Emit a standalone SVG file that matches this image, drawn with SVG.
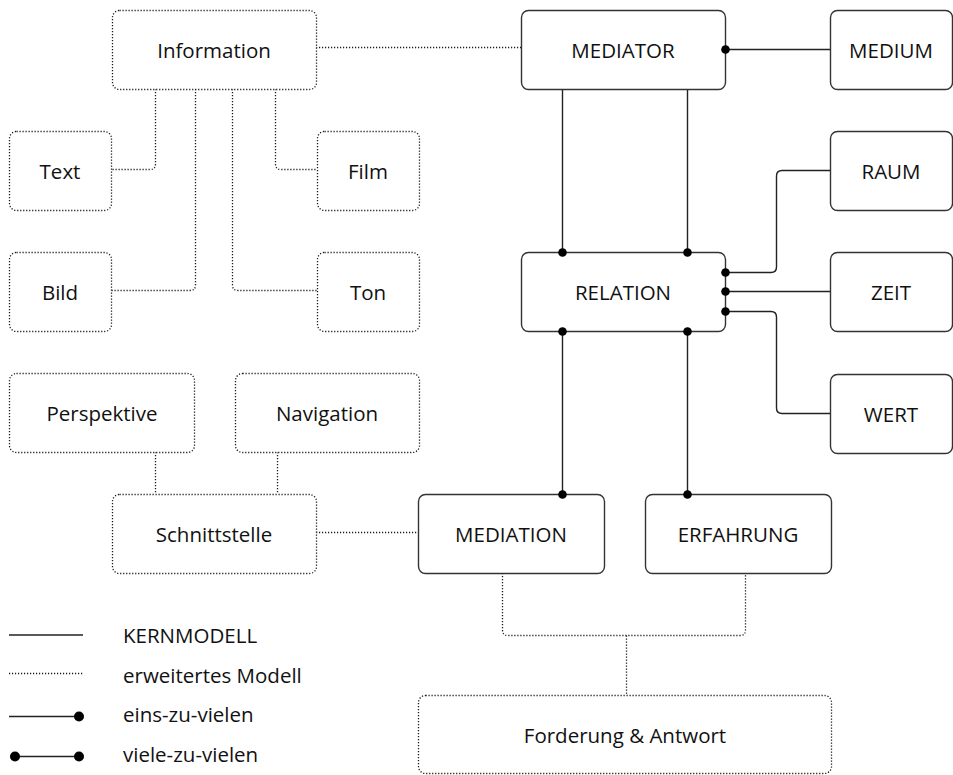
<svg xmlns="http://www.w3.org/2000/svg" width="953" height="775" viewBox="0 0 953 775">
<style>
.box{fill:#fff;stroke:#333;stroke-width:1.4}
.dbox{fill:#fff;stroke:#1a1a1a;stroke-width:1.3;stroke-dasharray:1.2 1.8}
.t{font-family:"Open Sans","Noto Sans","Liberation Sans",sans-serif;font-size:20.5px;fill:#111;text-anchor:middle}
.lt{font-family:"Open Sans","Noto Sans","Liberation Sans",sans-serif;font-size:20.5px;fill:#111}
.sl{fill:none;stroke:#222;stroke-width:1.4}
.dl{fill:none;stroke:#1a1a1a;stroke-width:1.3;stroke-dasharray:1.2 1.8}
.dot{fill:#000}
</style>
<rect width="953" height="775" fill="#fff"/>
<g id="connectors">
<path class="dl" d="M316 47.5H521"/>
<path class="dl" d="M155.5 89V164Q155.5 169.5 150 169.5H111"/>
<path class="dl" d="M195.5 89V285Q195.5 290.5 190 290.5H111"/>
<path class="dl" d="M232.5 89V285Q232.5 290.5 238 290.5H317"/>
<path class="dl" d="M275.5 89V164Q275.5 169.5 281 169.5H317"/>
<path class="dl" d="M155.5 452V494"/>
<path class="dl" d="M277.5 452V494"/>
<path class="dl" d="M316 532.5H418"/>
<path class="dl" d="M502.5 573V630Q502.5 635.5 508 635.5H740Q745.5 635.5 745.5 630V573"/>
<path class="dl" d="M626.5 635.5V695"/>
<path class="sl" d="M725 49.5H830"/>
<path class="sl" d="M562.5 89V252"/>
<path class="sl" d="M687.5 89V252"/>
<path class="sl" d="M725 272.5H771Q776.5 272.5 776.5 267V176Q776.5 170.5 782 170.5H830"/>
<path class="sl" d="M725 291.5H830"/>
<path class="sl" d="M725 311.5H771Q776.5 311.5 776.5 317V408Q776.5 413.5 782 413.5H830"/>
<path class="sl" d="M562.5 331V494"/>
<path class="sl" d="M687.5 331V494"/>
</g>
<g id="Information"><rect class="dbox" x="112.5" y="10.5" width="204" height="79" rx="7"/><text class="t" x="214" y="58">Information</text></g>
<g id="Text"><rect class="dbox" x="9.5" y="131.5" width="102" height="79" rx="7"/><text class="t" x="60" y="179">Text</text></g>
<g id="Bild"><rect class="dbox" x="9.5" y="252.5" width="102" height="79" rx="7"/><text class="t" x="60" y="300">Bild</text></g>
<g id="Film"><rect class="dbox" x="317.5" y="131.5" width="102" height="79" rx="7"/><text class="t" x="368" y="179">Film</text></g>
<g id="Ton"><rect class="dbox" x="317.5" y="252.5" width="102" height="79" rx="7"/><text class="t" x="368" y="300">Ton</text></g>
<g id="Perspektive"><rect class="dbox" x="9.5" y="373.5" width="185" height="79" rx="7"/><text class="t" x="102" y="421">Perspektive</text></g>
<g id="Navigation"><rect class="dbox" x="235.5" y="373.5" width="184" height="79" rx="7"/><text class="t" x="327" y="421">Navigation</text></g>
<g id="Schnittstelle"><rect class="dbox" x="112.5" y="494.5" width="204" height="79" rx="7"/><text class="t" x="214" y="542">Schnittstelle</text></g>
<g id="MEDIATOR"><rect class="box" x="521.5" y="10.5" width="204" height="79" rx="7"/><text class="t" x="623" y="58">MEDIATOR</text></g>
<g id="MEDIUM"><rect class="box" x="830.5" y="10.5" width="122" height="79" rx="7"/><text class="t" x="891" y="58">MEDIUM</text></g>
<g id="RAUM"><rect class="box" x="830.5" y="131.5" width="122" height="79" rx="7"/><text class="t" x="891" y="179">RAUM</text></g>
<g id="RELATION"><rect class="box" x="521.5" y="252.5" width="204" height="79" rx="7"/><text class="t" x="623" y="300">RELATION</text></g>
<g id="ZEIT"><rect class="box" x="830.5" y="252.5" width="122" height="79" rx="7"/><text class="t" x="891" y="300">ZEIT</text></g>
<g id="WERT"><rect class="box" x="830.5" y="374.5" width="122" height="79" rx="7"/><text class="t" x="891" y="422">WERT</text></g>
<g id="MEDIATION"><rect class="box" x="418.5" y="494.5" width="186" height="79" rx="7"/><text class="t" x="511" y="542">MEDIATION</text></g>
<g id="ERFAHRUNG"><rect class="box" x="645.5" y="494.5" width="186" height="79" rx="7"/><text class="t" x="738" y="542">ERFAHRUNG</text></g>
<g id="Forderung"><rect class="dbox" x="418.5" y="695.5" width="413" height="78" rx="7"/><text class="t" x="625" y="743">Forderung &amp; Antwort</text></g>
<g id="dots">
<circle class="dot" cx="725.5" cy="49.5" r="4.3"/>
<circle class="dot" cx="562.5" cy="252.5" r="4.3"/>
<circle class="dot" cx="687.5" cy="252.5" r="4.3"/>
<circle class="dot" cx="725.5" cy="272.5" r="4.3"/>
<circle class="dot" cx="725.5" cy="291.5" r="4.3"/>
<circle class="dot" cx="725.5" cy="311.5" r="4.3"/>
<circle class="dot" cx="562.5" cy="331.5" r="4.3"/>
<circle class="dot" cx="687.5" cy="331.5" r="4.3"/>
<circle class="dot" cx="562.5" cy="494.5" r="4.3"/>
<circle class="dot" cx="687.5" cy="494.5" r="4.3"/>
</g>
<g id="legend">
<path class="sl" d="M9 635H83"/>
<text class="lt" x="123" y="643">KERNMODELL</text>
<path class="dl" d="M9 673.5H83"/>
<text class="lt" x="123" y="683">erweitertes Modell</text>
<path class="sl" d="M9 716.5H79"/>
<circle class="dot" cx="79" cy="716.5" r="5"/>
<text class="lt" x="123" y="722">eins-zu-vielen</text>
<path class="sl" d="M15 756.5H79"/>
<circle class="dot" cx="15" cy="756.5" r="5"/>
<circle class="dot" cx="79" cy="756.5" r="5"/>
<text class="lt" x="123" y="762">viele-zu-vielen</text>
</g>
</svg>
